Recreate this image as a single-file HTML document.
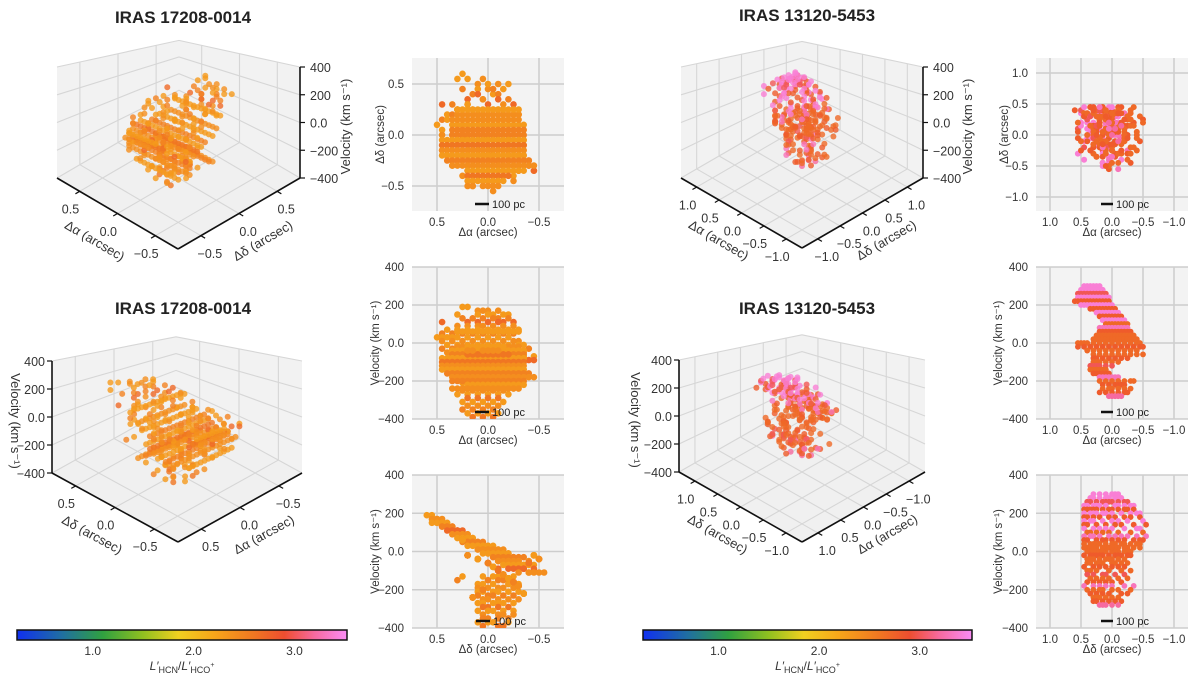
<!DOCTYPE html>
<html><head><meta charset="utf-8"><style>
html,body{margin:0;padding:0;background:#fff;}
svg{display:block;font-family:"Liberation Sans",sans-serif;}
</style></head><body>
<svg id="fig" width="1200" height="679" viewBox="0 0 1200 679" xmlns="http://www.w3.org/2000/svg">
<defs>
<linearGradient id="cmapL" x1="0" x2="1" y1="0" y2="0"></linearGradient>
</defs>
</svg>
<script>
// ---------- DATA: IRAS 17208-0014 (velocity channels: ratio, RA list, Dec list or single Dec) ----------
const A_v=[190,170,150,130,110,90,70,50,30,10,-10,-30,-50,-70,-90,-110,-130,-150,-170,-190,-210,-230,-250,-270,-290,-310,-330,-350,-370,-390,
 -20,-40,-60,-80,-100,-120,-140,-160,-180,60,-200,-220,-240,-60,-20,-40];
const A_r=[2.3,2.4,2.3,2.5,2.7,2.4,2.3,2.5,2.3,2.4,2.3,2.5,2.4,2.3,2.7,2.4,2.3,2.5,2.3,2.4,2.3,2.5,2.4,2.3,2.6,2.3,2.4,2.5,2.3,2.6,
 2.4,2.3,2.5,2.3,2.6,2.4,2.3,2.5,2.4,2.3,2.5,2.3,2.4,2.6,2.3,2.4];
const A_a=[
[0.2,0.25],
[0.1,0.05,0,-0.1],
[0.3,0.1,0,-0.05,-0.15,-0.2],
[0.25,0.15,0.05,-0.05,-0.1,-0.2],
[0.45,0.2,0.1,0,-0.1,-0.15,-0.25],
[0.3,0.2,0.1,0.05,-0.05,-0.15,-0.25],
[0.4,0.3,0.2,0.1,0,-0.1,-0.2,-0.3],
[0.45,0.35,0.25,0.15,0.05,-0.05,-0.15,-0.25],
[0.5,0.45,0.4,0.35,0.3,0.2,0.1,0,-0.1,-0.2],
[0.45,0.35,0.25,0.15,0.05,-0.05,-0.15,-0.25,-0.3],
[0.4,0.3,0.2,0.1,0,-0.1,-0.2,-0.3,-0.35],
[0.45,0.35,0.25,0.15,0.05,-0.05,-0.15,-0.25,-0.4],
[0.4,0.3,0.2,0.1,0,-0.1,-0.2,-0.3,-0.35],
[0.35,0.25,0.15,0.05,-0.05,-0.15,-0.25,-0.35,-0.45],
[0.3,0.2,0.1,0,-0.1,-0.2,-0.3,-0.4,-0.45],
[0.25,0.15,0.05,-0.05,-0.15,-0.25],
[0.25,0.15,0.05,-0.05,-0.15,0.3],
[0.2,0.1,0,-0.1,-0.2,0.35],
[0.25,0.15,0.05,-0.05,-0.15,-0.3],
[0.2,0.1,0,-0.1,-0.2],
[0.25,0.15,0.05,-0.05,-0.15,-0.25],
[0.2,0.1,0,-0.1,-0.2],
[0.25,0.15,0.05,-0.05,-0.15],
[0.3,0.2,0.1,0,-0.1,-0.2],
[0.2,0.1,0,-0.1],
[0.25,0.15,0.05,-0.05,-0.15],
[0.2,0.1,0,-0.1],
[0.25,0.15,0.05,-0.05],
[0.2,0.1,0,-0.1],
[0.15,0.05,-0.05],
[0.3,0.25,0.2,0.15,0.1,0.05,0,-0.05,-0.1,-0.15,-0.2,-0.25,-0.3],
[0.35,0.3,0.25,0.2,0.15,0.1,0.05,0,-0.05,-0.1,-0.15,-0.2,-0.25,-0.3,-0.35],
[0.35,0.3,0.25,0.2,0.15,0.1,0.05,0,-0.05,-0.1,-0.15,-0.2,-0.25,-0.3,-0.35],
[0.45,0.4,0.35,0.3,0.25,0.2,0.15,0.1,0.05,0,-0.05,-0.1,-0.15,-0.2,-0.25,-0.3,-0.35],
[0.45,0.4,0.35,0.3,0.25,0.2,0.15,0.1,0.05,0,-0.05,-0.1,-0.15,-0.2,-0.25,-0.3,-0.35],
[0.45,0.4,0.35,0.3,0.25,0.2,0.15,0.1,0.05,0,-0.05,-0.1,-0.15,-0.2,-0.25,-0.3,-0.35],
[0.45,0.4,0.35,0.3,0.25,0.2,0.15,0.1,0.05,0,-0.05,-0.1,-0.15,-0.2,-0.25,-0.3,-0.35],
[0.4,0.35,0.3,0.25,0.2,0.15,0.1,0.05,0,-0.05,-0.1,-0.15,-0.2,-0.25,-0.3,-0.35,-0.4],
[0.35,0.3,0.25,0.2,0.15,0.1,0.05,0,-0.05,-0.1,-0.15,-0.2,-0.25,-0.3,-0.35,-0.4,-0.45],
[0.3,0.25,0.2,0.15,0.1,0.05,0,-0.05,-0.1,-0.15,-0.2,-0.25,-0.3],
[0.35,0.3,0.25,0.2,0.15,0.1,0.05,0,-0.05,-0.1,-0.15,-0.2,-0.25,-0.3,-0.35],
[0.2,0.15,0.1,0.05,0,-0.05,-0.1,-0.15,-0.2,-0.25,-0.3,-0.35],
[0.35,0.3,0.25,0.2,0.15,0.1,0.05,0,-0.05,-0.1,-0.15,-0.2,-0.25,-0.3],
[0.2,0.15,0.1,0.05,0,-0.05,-0.1,-0.15,-0.2],
[0.2,0.15,0.1,0.05,0,-0.05,-0.1,-0.15],
[0.2,0.15,0.05,0,-0.05,-0.1]
];
const A_d=[
[0.55,0.6],
[0.5,0.55,0.45,0.5],
[0.55,0.45,0.5,0.4,0.45,0.5],
[0.45,0.4,0.35,0.45,0.4,0.35],
[0.3,0.35,0.4,0.3,0.35,0.25,0.3],
[0.25,0.3,0.2,0.35,0.25,0.3,0.2],
[0.2,0.25,0.3,0.15,0.2,0.25,0.15,0.2],
[0.15,0.2,0.1,0.25,0.15,0.1,0.2,0.05],
[0.1,0.05,0.15,0,0.1,0.05,0.2,-0.05,0.1,0],
[0,-0.1,0.05,-0.05,0.1,0,-0.15,0.05,-0.1],
[-0.1,0,-0.2,0.05,-0.15,-0.05,0,-0.2,-0.1],
[-0.15,-0.25,-0.05,-0.3,-0.1,-0.2,-0.35,-0.15,-0.25],
[-0.2,-0.1,-0.3,-0.15,-0.25,-0.4,-0.1,-0.3,-0.2],
[-0.3,-0.2,-0.45,-0.35,-0.15,-0.3,-0.4,-0.25,-0.35],
[-0.1,-0.35,-0.25,-0.45,-0.3,-0.2,-0.35,-0.3,-0.35],
[-0.4,-0.5,-0.3,-0.55,-0.4,-0.45],
[-0.05,-0.15,0.05,-0.25,-0.1,0.25],
[0,-0.1,-0.2,0,-0.15,0.3],
[-0.2,0.05,-0.05,-0.3,0.1,-0.2],
[0.1,-0.15,0,-0.1,-0.25],
[-0.05,0.05,-0.2,0.1,-0.1,-0.3],
[0,-0.15,0.1,-0.25,-0.05],
[-0.2,0.05,-0.1,0,-0.3],
[0.1,-0.05,-0.25,-0.15,0.05,-0.1],
[-0.1,0,-0.2,0.05],
[0,-0.25,-0.05,-0.15,0.1],
[-0.15,0.05,-0.1,-0.25],
[0.05,-0.1,0,-0.2],
[-0.05,-0.2,0.1,0],
[-0.1,0.05,-0.15],
0.2,0.1,0.0,-0.05,-0.1,-0.15,-0.2,-0.25,-0.3,0.25,0.05,-0.35,0.15,-0.4,-0.45,-0.5
];
// ---------- DATA: IRAS 13120-5453 (velocity channels: ratio, paired RA / Dec lists) ----------
const B_v=[300,280,260,240,220,200,180,160,140,120,100,80,60,40,20,0,-20,-40,-60,-80,-100,-120,-140,-160,-180,-200,-220,-240,-260,-280];
const B_r=[3.4,3.4,3.0,3.4,2.8,3.4,2.8,3.4,2.8,3.4,2.7,3.3,2.8,2.7,2.7,2.7,2.8,2.7,2.7,2.8,2.7,3.0,2.7,2.8,3.3,2.7,2.8,2.7,2.8,3.2];
const B_a=[
[0.45,0.4,0.35,0.3,0.25,0.2],
[0.5,0.45,0.4,0.35,0.3,0.25,0.2,0.15],
[0.55,0.5,0.45,0.4,0.35,0.3,0.25,0.2,0.15,0.1],
[0.55,0.5,0.45,0.4,0.35,0.3,0.25,0.2,0.15,0.1,0.05],
[0.6,0.55,0.5,0.45,0.4,0.35,0.3,0.25,0.2,0.15,0.1,0.05],
[0.5,0.45,0.4,0.35,0.3,0.25,0.2,0.15,0.1,0.05,0],
[0.35,0.3,0.25,0.2,0.15,0.1,0.05,0,-0.05],
[0.25,0.2,0.15,0.1,0.05,0,-0.05,-0.1],
[0.2,0.15,0.1,0.05,0,-0.05,-0.1,-0.15],
[0.15,0.1,0.05,0,-0.05,-0.1,-0.15,-0.2],
[0.1,0.05,0,-0.05,-0.1,-0.15,-0.2,-0.25],
[0.2,0.15,0.1,0.05,0,-0.05,-0.1,-0.15,-0.2,-0.25],
[0.2,0.15,0.1,0.05,0,-0.05,-0.1,-0.15,-0.2,-0.25,-0.3],
[0.25,0.2,0.15,0.1,0.05,0,-0.05,-0.1,-0.15,-0.2,-0.25,-0.3,-0.35],
[0.3,0.25,0.2,0.15,0.1,0.05,0,-0.05,-0.1,-0.15,-0.2,-0.25,-0.3,-0.35,-0.4],
[0.55,0.5,0.45,0.4,0.3,0.2,0.1,0,-0.1,-0.2,-0.3,-0.4,-0.45],
[0.55,0.45,0.35,0.25,0.15,0.05,-0.05,-0.15,-0.25,-0.35,-0.45,-0.5],
[0.4,0.3,0.2,0.1,0,-0.1,-0.2,-0.3,-0.4],
[0.3,0.2,0.1,0,-0.1,-0.2,-0.3,-0.4,-0.5],
[0.3,0.25,0.15,0.05,-0.05,-0.15,-0.25],
[0.3,0.25,0.2,0.1,0,-0.1],
[0.35,0.3,0.25,0.2,0.1,0],
[0.35,0.3,0.25,0.2,0.15,0.1],
[0.3,0.25,0.2,0.15,0.1,0.05],
[0.2,0.15,0.1,0.05,0,-0.05,-0.1],
[0.2,0.1,0,-0.1,-0.2,-0.3,-0.35],
[0.15,0.05,-0.05,-0.1,-0.15,-0.2],
[0.15,0.05,0,-0.1,-0.2,-0.3],
[0.2,0.1,0,-0.1,-0.2,-0.25],
[0.05,0,-0.05,-0.1,-0.15]
];
const B_d=[
[0.3,0.1,-0.05,0.2,0,-0.1],
[0.35,-0.1,0.2,0.05,-0.15,0.3,0.1,-0.05],
[0.1,0.4,-0.2,0.25,0,0.35,-0.1,0.15,-0.25,0.05],
[-0.3,0.2,0.45,-0.05,0.3,-0.2,0.1,0.4,-0.1,0.25,-0.35],
[0.4,0.05,-0.25,0.3,-0.1,0.45,0.15,-0.35,0.25,0,-0.2,0.35],
[0.15,-0.4,0.35,0,0.45,-0.15,0.25,-0.3,0.1,-0.45,0.3],
[0.45,-0.2,0.05,0.3,-0.45,0.2,-0.05,0.4,-0.3],
[-0.1,0.35,-0.5,0.15,0.45,-0.25,0,0.3],
[0.4,-0.35,0.1,-0.55,0.25,-0.15,0.45,-0.05],
[-0.45,0.3,-0.2,0.45,0,0.2,-0.4,0.1],
[0.35,-0.5,0.15,-0.1,0.4,-0.3,0.05,0.25],
[0.45,-0.15,0.2,-0.4,0.05,0.3,-0.55,-0.05,0.35,-0.25],
[-0.2,0.4,-0.5,0.1,0.25,-0.35,0,0.45,-0.1,0.15,-0.45],
[0.3,-0.05,0.45,-0.3,0.1,-0.45,0.2,0.35,-0.15,0,-0.4,0.25,-0.2],
[0.1,-0.35,0.4,-0.1,0.25,0.05,-0.25,0.35,-0.45,0.15,-0.05,0.3,-0.2,0.45,0],
[0.2,-0.1,0.35,0,-0.3,0.25,0.1,-0.2,0.4,-0.05,0.15,-0.25,0.3],
[-0.05,0.3,-0.25,0.15,0.45,-0.15,0.05,0.35,-0.3,0.2,-0.1,0.25],
[0.35,0,0.2,-0.2,0.3,0.1,-0.1,0.4,0.05],
[-0.15,0.25,0.4,-0.25,0.15,0,0.35,-0.05,0.2],
[0.45,0.1,-0.2,0.3,-0.1,0.2,0],
[0.05,0.4,-0.15,0.25,0.35,-0.3],
[0.3,-0.05,0.15,0.4,-0.2,0.1],
[0.15,0.35,-0.1,0.25,0.05,-0.25],
[0.4,0,0.2,-0.15,0.3,0.1],
[0.45,-0.2,0.3,0.1,-0.35,0.2,0],
[0.3,-0.1,0.2,0.4,0,-0.3,0.15],
[-0.15,0.25,0.05,0.35,-0.25,0.15],
[0.3,0,0.2,-0.1,0.1,0.25],
[0.15,0.3,-0.15,0.05,0.25,-0.05],
[0.2,0,0.1,-0.1,0.15]
];
// tick arrays
const ticksSmall=[0.5,0,-0.5];
const ticksBig=[1,0.5,0,-0.5,-1];
const ticksVel=[400,200,0,-200,-400];
const cbarTicks=[1.0,2.0,3.0];

// ---------- helpers ----------
const NS='http://www.w3.org/2000/svg';
const svg=document.getElementById('fig');
function el(tag,attrs,parent){const e=document.createElementNS(NS,tag);for(const k in attrs)e.setAttribute(k,attrs[k]);(parent||svg).appendChild(e);return e;}
function lin(d0,d1,r0,r1){return v=>r0+(v-d0)/(d1-d0)*(r1-r0);}
function fmt(v){const s=Math.abs(v)>=10?String(Math.abs(v)):Math.abs(v).toFixed(1);return (v<0?'\u2212':'')+s;}
const cstops=[[0.25,[16,48,240]],[0.7,[32,112,160]],[1.1,[48,160,64]],[1.5,[144,192,32]],[1.85,[240,208,32]],[2.2,[247,166,26]],[2.6,[240,118,34]],[2.9,[238,78,48]],[3.2,[246,106,160]],[3.52,[250,140,245]]];
function cmap(r){if(r<=cstops[0][0])return 'rgb('+cstops[0][1]+')';for(let i=1;i<cstops.length;i++){if(r<=cstops[i][0]){const t=(r-cstops[i-1][0])/(cstops[i][0]-cstops[i-1][0]);const c=cstops[i-1][1].map((x,j)=>Math.round(x+(cstops[i][1][j]-x)*t));return 'rgb('+c.join(',')+')';}}return 'rgb('+cstops[cstops.length-1][1]+')';}
function collect(V,R,AA,DD){const p=[];for(let i=0;i<AA.length;i++){for(let k=0;k<AA[i].length;k++){const d=Array.isArray(DD[i])?DD[i][k]:DD[i];p.push({a:AA[i][k],d:d,v:V[i],r:R[i]});}}return p;}
const PA=collect(A_v,A_r,A_a,A_d), PB=collect(B_v,B_r,B_a,B_d);

// ---------- 2D panels ----------
const panels=[
 {name:'17208-ra-dec-panel',pts:PA,view:'ad',x0:412,x1:564,y0:58,y1:211,sx:lin(0.5,-0.5,437,539),sy:lin(0.5,-0.5,84,186),xt:ticksSmall,yt:ticksSmall,xl:'\u0394\u03b1 (arcsec)',yl:'\u0394\u03b4 (arcsec)',ylx:384,rad:3.3,bar:[475,489,204]},
 {name:'17208-ra-vel-panel',pts:PA,view:'av',x0:412,x1:564,y0:267,y1:419,sx:lin(0.5,-0.5,437,539),sy:lin(400,-400,267,419),xt:ticksSmall,yt:ticksVel,xl:'\u0394\u03b1 (arcsec)',yl:'Velocity (km s\u207b\u00b9)',ylx:379,rad:3.3,bar:[475,489,412]},
 {name:'17208-dec-vel-panel',pts:PA,view:'dv',x0:412,x1:564,y0:475,y1:628,sx:lin(0.5,-0.5,437,539),sy:lin(400,-400,475,628),xt:ticksSmall,yt:ticksVel,xl:'\u0394\u03b4 (arcsec)',yl:'Velocity (km s\u207b\u00b9)',ylx:379,rad:3.3,bar:[476,490,621]},
 {name:'13120-ra-dec-panel',pts:PB,view:'ad',x0:1036,x1:1188,y0:58,y1:211,sx:lin(1,-1,1050,1174),sy:lin(1,-1,73,197),xt:ticksBig,yt:ticksBig,xl:'\u0394\u03b1 (arcsec)',yl:'\u0394\u03b4 (arcsec)',ylx:1008,rad:3.0,bar:[1101,1113,204]},
 {name:'13120-ra-vel-panel',pts:PB,view:'av',x0:1036,x1:1188,y0:267,y1:419,sx:lin(1,-1,1050,1174),sy:lin(400,-400,267,419),xt:ticksBig,yt:ticksVel,xl:'\u0394\u03b1 (arcsec)',yl:'Velocity (km s\u207b\u00b9)',ylx:1002,rad:2.9,bar:[1101,1113,412]},
 {name:'13120-dec-vel-panel',pts:PB,view:'dv',x0:1036,x1:1188,y0:475,y1:628,sx:lin(1,-1,1050,1174),sy:lin(400,-400,475,628),xt:ticksBig,yt:ticksVel,xl:'\u0394\u03b4 (arcsec)',yl:'Velocity (km s\u207b\u00b9)',ylx:1002,rad:2.9,bar:[1101,1113,621]}
];
panels.forEach((P,pi)=>{
 const g=el('g',{});
 
 
 const cp=el('clipPath',{id:'cp'+pi},g);
 el('rect',{x:P.x0,y:P.y0,width:P.x1-P.x0,height:P.y1-P.y0},cp);
 const bg=el('rect',{x:P.x0,y:P.y0,width:P.x1-P.x0,height:P.y1-P.y0,fill:'#f3f3f3'},g);
 
 
 const grid=el('g',{stroke:'#cdcdcd','stroke-width':1.5},g);
 
 
 P.xt.forEach(t=>{const x=P.sx(t);el('line',{x1:x,x2:x,y1:P.y0,y2:P.y1},grid);});
 P.yt.forEach(t=>{const y=P.sy(t);el('line',{x1:P.x0,x2:P.x1,y1:y,y2:y},grid);});
 const sc=el('g',{'clip-path':'url(#cp'+pi+')'},g);
 
 
 P.pts.forEach(p=>{
  const xv=P.view==='dv'?p.d:p.a;
  const yv=P.view==='ad'?p.d:p.v;
  const c=el('circle',{cx:P.sx(xv).toFixed(1),cy:P.sy(yv).toFixed(1),r:P.rad,fill:cmap(p.r)},sc);
  
  
 });
 const xtg=el('g',{'font-size':11.5,fill:'#333','text-anchor':'middle'},g);
 
 
 P.xt.forEach(t=>{const tx=el('text',{x:P.sx(t),y:P.y1+15},xtg);tx.textContent=fmt(t);});
 const ytg=el('g',{'font-size':11.5,fill:'#333','text-anchor':'end'},g);
 
 
 P.yt.forEach(t=>{const tx=el('text',{x:P.x0-8,y:P.sy(t)+4},ytg);tx.textContent=fmt(t);});
 const xl=el('text',{x:(P.x0+P.x1)/2,y:P.y1+25,'font-size':11.5,fill:'#333','text-anchor':'middle'},g);
 
 
 xl.textContent=P.xl;
 const ym=(P.y0+P.y1)/2;
 const yl=el('text',{x:P.ylx,y:ym,'font-size':11.5,fill:'#333','text-anchor':'middle',transform:'rotate(-90 '+P.ylx+' '+ym+')'},g);
 
 
 yl.textContent=P.yl;
 const sb=el('g',{},g);
 
 
 el('line',{x1:P.bar[0],x2:P.bar[1],y1:P.bar[2],y2:P.bar[2],stroke:'#111','stroke-width':2.5},sb);
 const st=el('text',{x:P.bar[1]+3,y:P.bar[2]+4,'font-size':11,fill:'#222'},sb);
 st.textContent='100 pc';
});

// ---------- 3D panels ----------
const cubes=[
 {name:'17208-3d-top',pts:PA,type:'top',L:[57,178],F:[178,249],R:[300,178],H:111,max:0.8,ticks:ticksSmall,vlabOff:10,vtitle:50},
 {name:'17208-3d-bottom',pts:PA,type:'bottom',L:[52,473],F:[178,542],R:[302,473],H:112,max:0.8,ticks:ticksSmall,vlabOff:7,vtitle:41},
 {name:'13120-3d-top',pts:PB,type:'top',L:[681,178],F:[802,248],R:[923,178],H:111,max:1.35,ticks:ticksBig,vlabOff:10,vtitle:49},
 {name:'13120-3d-bottom',pts:PB,type:'bottom',L:[679,472],F:[802,542],R:[925,472],H:112,max:1.35,ticks:ticksBig,vlabOff:7,vtitle:48}
];
const persp=0.571;
cubes.forEach(C=>{
 const m=C.max;
 const Hf=C.H/(1-persp/2);
 const P=(u1,u2,uv)=>{const w=(u2-u1+1)/2;return [C.L[0]+(C.F[0]-C.L[0])*u1+(C.R[0]-C.F[0])*u2, C.L[1]+(C.F[1]-C.L[1])*u1+(C.R[1]-C.F[1])*u2-Hf*(1-persp*w)*uv];};
 const uA=a=>(m-a)/(2*m);
 const uDtop=d=>(d+m)/(2*m);
 const uDbot=d=>(m-d)/(2*m);
 const u1f=C.type==='top'?uA:uDbot;
 const u2f=C.type==='top'?uDtop:uA;
 const uv=v=>(v+400)/800;
 const g=el('g',{});
 
 
 const pts=a=>a.map(p=>p[0].toFixed(1)+','+p[1].toFixed(1)).join(' ');
 const panes=el('g',{},g);
 
 
 el('polygon',{points:pts([P(0,0,0),P(0,1,0),P(0,1,1),P(0,0,1)]),fill:'#f2f2f2'},panes);
 el('polygon',{points:pts([P(0,1,0),P(1,1,0),P(1,1,1),P(0,1,1)]),fill:'#f2f2f2'},panes);
 el('polygon',{points:pts([P(0,0,0),P(1,0,0),P(1,1,0),P(0,1,0)]),fill:'#f0f0f0'},panes);
 const grid=el('g',{stroke:'#d6d6d6','stroke-width':1.1,fill:'none'},g);
 
 
 const ln=(p,q)=>el('line',{x1:p[0],y1:p[1],x2:q[0],y2:q[1]},grid);
 C.ticks.forEach(t=>{
  const a1=u1f(t), a2=u2f(t);
  ln(P(0,a2,0),P(0,a2,1)); ln(P(a1,1,0),P(a1,1,1));
  ln(P(a1,0,0),P(a1,1,0)); ln(P(0,a2,0),P(1,a2,0));
 });
 ticksVel.forEach(t=>{const h=uv(t);el('polyline',{points:pts([P(0,0,h),P(0,1,h),P(1,1,h)])},grid);});
 const sc=el('g',{'fill-opacity':0.8},g);
 
 
 const list=C.pts.map(p=>{const u1=u1f(C.type==='top'?p.a:p.d),u2=u2f(C.type==='top'?p.d:p.a);return {p:p,s:P(u1,u2,uv(p.v)),depth:u1-u2};});
 list.sort((x,y)=>x.depth-y.depth);
 list.forEach(o=>{
  const c=el('circle',{cx:o.s[0].toFixed(1),cy:o.s[1].toFixed(1),r:3,fill:cmap(o.p.r)},sc);
  
  
 });
 const ax=el('g',{stroke:'#111','stroke-width':1.6,fill:'none'},g);
 
 
 const aL=(p,q,w)=>el('line',{x1:p[0],y1:p[1],x2:q[0],y2:q[1],'stroke-width':w||1.6},ax);
 aL(P(0,0,0),P(1,0,0)); aL(P(1,0,0),P(1,1,0));
 const vx=C.type==='top'?[1,1]:[0,0];
 aL(P(vx[0],vx[1],0),P(vx[0],vx[1],1));
 const dR=[C.R[0]-C.F[0],C.R[1]-C.F[1]], dL=[C.F[0]-C.L[0],C.F[1]-C.L[1]];
 const lab=el('g',{'font-size':12.5,fill:'#333','text-anchor':'middle'},g);
 
 
 C.ticks.forEach(t=>{
  const p=P(u1f(t),0,0);
  aL(p,[p[0]-dR[0]*0.035,p[1]-dR[1]*0.035],1.2);
  const tx=el('text',{x:(p[0]-dR[0]*0.075).toFixed(1),y:(p[1]-dR[1]*0.075+17).toFixed(1)},lab);tx.textContent=fmt(t);
  const q=P(1,u2f(t),0);
  aL(q,[q[0]+dL[0]*0.035,q[1]+dL[1]*0.035],1.2);
  const tq=el('text',{x:(q[0]+dL[0]*0.075).toFixed(1),y:(q[1]+dL[1]*0.075+17).toFixed(1)},lab);tq.textContent=fmt(t);
 });
 ticksVel.forEach(t=>{
  const p=P(vx[0],vx[1],uv(t));
  const s=C.type==='top'?1:-1;
  aL(p,[p[0]+5*s,p[1]],1.2);
  const tx=el('text',{x:p[0]+C.vlabOff*s,y:p[1]+5,'text-anchor':C.type==='top'?'start':'end'},lab);tx.textContent=fmt(t);
 });
 const ang=Math.atan2(dL[1],dL[0])*180/Math.PI;
 const m1=P(0.5,0,0), m2=P(1,0.5,0);
 const t1=[m1[0]-25,m1[1]+31], t2=[m2[0]+26,m2[1]+31];
 const n1=C.type==='top'?'\u0394\u03b1 (arcsec)':'\u0394\u03b4 (arcsec)';
 const n2=C.type==='top'?'\u0394\u03b4 (arcsec)':'\u0394\u03b1 (arcsec)';
 const at1=el('text',{x:t1[0],y:t1[1],'font-size':13,fill:'#333','text-anchor':'middle',transform:'rotate('+ang.toFixed(1)+' '+t1[0]+' '+t1[1]+')'},g);
 
 
 at1.textContent=n1;
 const at2=el('text',{x:t2[0],y:t2[1],'font-size':13,fill:'#333','text-anchor':'middle',transform:'rotate('+(-ang).toFixed(1)+' '+t2[0]+' '+t2[1]+')'},g);
 
 
 at2.textContent=n2;
 const vb=P(vx[0],vx[1],0.5);
 const vxp=C.type==='top'?vb[0]+C.vtitle:vb[0]-C.vtitle;
 const rot=C.type==='top'?-90:90;
 const vt=el('text',{x:vxp,y:vb[1]+4,'font-size':13,fill:'#333','text-anchor':'middle',transform:'rotate('+rot+' '+vxp+' '+(vb[1]+4)+')'},g);
 
 
 vt.textContent='Velocity (km s\u207b\u00b9)';
});

// ---------- colorbars ----------
const grad=document.getElementById('cmapL');
cstops.forEach(s=>{el('stop',{offset:((s[0]-0.25)/(3.52-0.25)*100).toFixed(1)+'%','stop-color':'rgb('+s[1]+')'},grad);});
[[17,347,'colorbar-left'],[643,972,'colorbar-right']].forEach(cb=>{
 const g=el('g',{});
 
 
 el('rect',{x:cb[0],y:630,width:cb[1]-cb[0],height:10,fill:'url(#cmapL)',stroke:'#111','stroke-width':1.5},g);
 const sx=lin(0.25,3.52,cb[0],cb[1]);
 cbarTicks.forEach(t=>{const tx=el('text',{x:sx(t),y:655,'font-size':12,fill:'#333','text-anchor':'middle'},g);tx.textContent=t.toFixed(1);});
 const lbl=el('text',{x:(cb[0]+cb[1])/2,y:670,'font-size':12,fill:'#333','text-anchor':'middle'},g);
 
 
 lbl.innerHTML='<tspan font-style="italic">L\u2032</tspan><tspan font-size="9" dy="3">HCN</tspan><tspan dy="-3">/</tspan><tspan font-style="italic">L\u2032</tspan><tspan font-size="9" dy="3">HCO</tspan><tspan font-size="7" dy="-6">+</tspan>';
});

// ---------- titles (on top) ----------
[[183,23,'IRAS 17208-0014','title-17208-top'],[183,314,'IRAS 17208-0014','title-17208-bottom'],[807,21,'IRAS 13120-5453','title-13120-top'],[807,314,'IRAS 13120-5453','title-13120-bottom']].forEach(t=>{
 const tx=el('text',{x:t[0],y:t[1],'text-anchor':'middle','font-size':17,'font-weight':'bold',fill:'#222'});
 
 
 tx.textContent=t[2];
});
</script>
</body></html>
